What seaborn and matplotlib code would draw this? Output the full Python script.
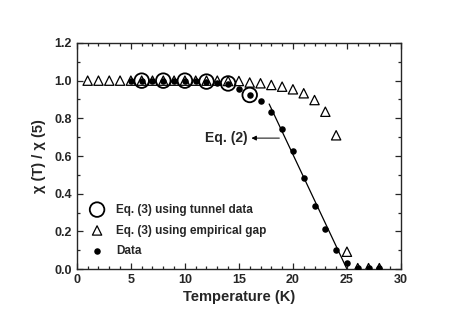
import matplotlib
matplotlib.use("Agg")
import matplotlib.pyplot as plt
from matplotlib.ticker import MultipleLocator, FormatStrFormatter
import seaborn as sns

# Data
data_T = [5, 6, 7, 8, 9, 10, 11, 12, 13, 14, 15, 16, 17, 18, 19, 20, 21, 22, 23, 24, 25, 26, 27, 28]
data_chi = [1.0, 1.0, 1.0, 1.0, 1.0, 1.0, 1.0, 0.995, 0.99, 0.98, 0.956, 0.924, 0.89, 0.832, 0.745,
            0.625, 0.485, 0.335, 0.21, 0.10, 0.03, 0.005, 0.005, 0.005]

gap_T = [1, 2, 3, 4, 5, 6, 7, 8, 9, 10, 11, 12, 13, 14, 15, 16, 17, 18, 19, 20, 21, 22, 23, 24, 25, 26, 27, 28]
gap_chi = [1.0, 1.0, 1.0, 1.0, 1.0, 1.0, 1.0, 1.0, 1.0, 1.0, 1.0, 1.0, 1.0, 0.998, 0.998, 0.99, 0.986,
           0.977, 0.968, 0.954, 0.933, 0.897, 0.835, 0.71, 0.092, 0.005, 0.005, 0.005]

tunnel_T = [6, 8, 10, 12, 14, 16]
tunnel_chi = [1.0, 1.0, 1.0, 0.995, 0.985, 0.924]

eq2_T = [17.8, 25.0]
eq2_chi = [0.876, 0.0]

sns.set_style("ticks")
plt.rcParams['font.family'] = ['Liberation Sans', 'DejaVu Sans']
plt.rcParams['font.weight'] = 'bold'

fig = plt.figure(figsize=(4.63, 3.23), dpi=100)
ax = fig.add_axes([0.166, 0.167, 0.700, 0.700])

sns.lineplot(x=eq2_T, y=eq2_chi, ax=ax, color='black', linewidth=0.9, legend=False)

sns.scatterplot(x=tunnel_T, y=tunnel_chi, ax=ax, marker='o', s=110, facecolor='none',
                edgecolor='black', linewidth=1.3, label='Eq. (3) using tunnel data', zorder=3)
sns.scatterplot(x=gap_T, y=gap_chi, ax=ax, marker='^', s=45, facecolor='none',
                edgecolor='black', linewidth=0.9, label='Eq. (3) using empirical gap', zorder=4)
sns.scatterplot(x=data_T, y=data_chi, ax=ax, marker='o', s=22, color='black',
                edgecolor='black', linewidth=0, label='Data', zorder=5)

ax.set_xlim(0, 30)
ax.set_ylim(0, 1.2)
ax.xaxis.set_major_locator(MultipleLocator(5))
ax.xaxis.set_minor_locator(MultipleLocator(1))
ax.yaxis.set_major_locator(MultipleLocator(0.2))
ax.yaxis.set_minor_locator(MultipleLocator(0.1))
ax.yaxis.set_major_formatter(FormatStrFormatter('%.1f'))
ax.tick_params(which='both', direction='in', top=True, right=True, labelsize=9, width=0.9)
ax.tick_params(which='major', length=4)
ax.tick_params(which='minor', length=2)
for lbl in ax.get_xticklabels() + ax.get_yticklabels():
    lbl.set_fontweight('bold')
for s in ax.spines.values():
    s.set_linewidth(1.0)

ax.set_xlabel('Temperature (K)', fontsize=10.5, fontweight='bold', labelpad=3)
ax.set_ylabel('χ (T) / χ (5)', fontsize=10.5, fontweight='bold', labelpad=6)

ax.annotate('', xy=(15.9, 0.695), xytext=(19.0, 0.695),
            arrowprops=dict(arrowstyle='-|>', color='black', lw=0.7, mutation_scale=7))
ax.text(15.8, 0.695, 'Eq. (2)', fontsize=10, fontweight='bold', ha='right', va='center')

leg = ax.legend(loc='lower left', bbox_to_anchor=(0.015, 0.015), frameon=False, fontsize=8.5,
                handletextpad=1.0, labelspacing=0.75, borderaxespad=0.3, handlelength=1.2)
for t in leg.get_texts():
    t.set_fontweight('bold')

fig.savefig('out.png', dpi=100)
